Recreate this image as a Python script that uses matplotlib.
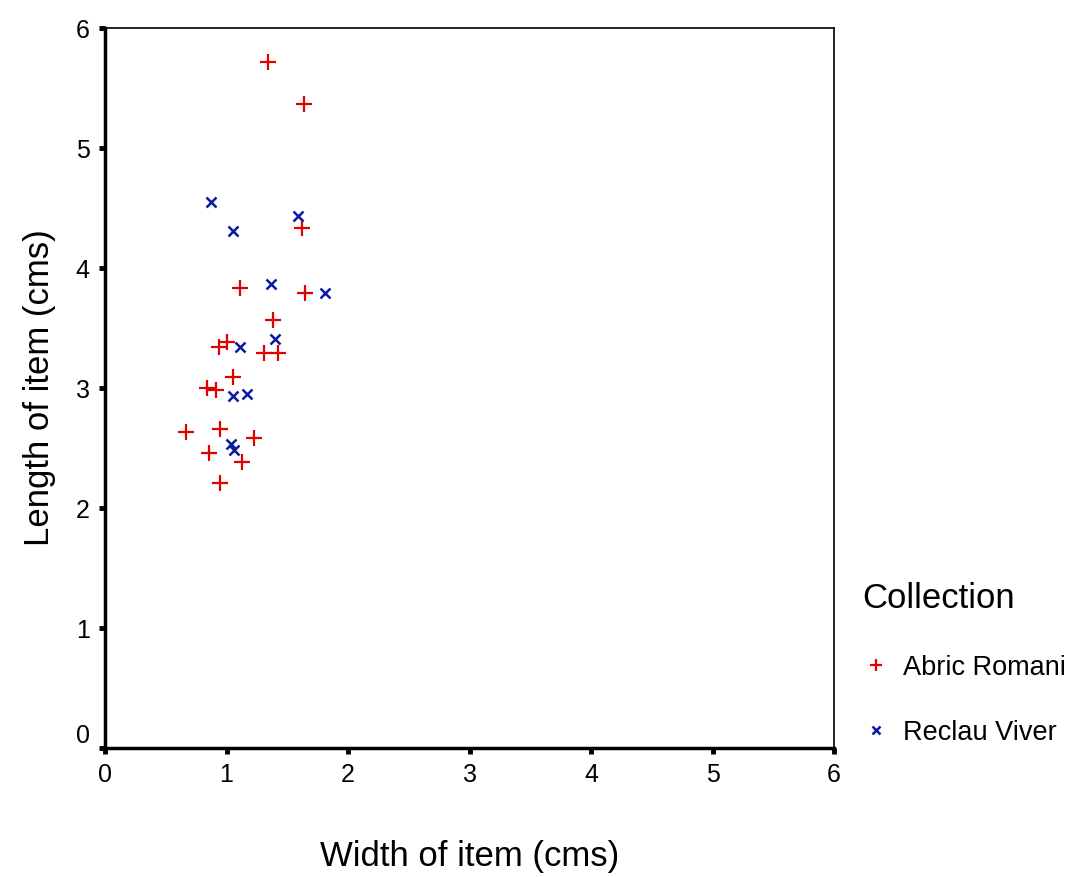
import matplotlib.pyplot as plt

plt.rcParams['font.family'] = ['Liberation Sans', 'DejaVu Sans']

# Abric Romani (red +)
ar_w = [1.34, 1.64, 1.62, 1.11, 1.65, 1.38, 0.94, 1.00, 1.31, 1.42, 1.05,
        0.84, 0.91, 0.67, 0.95, 1.23, 0.86, 1.13, 0.95]
ar_l = [5.72, 5.37, 4.33, 3.83, 3.79, 3.57, 3.34, 3.38, 3.29, 3.29, 3.09,
        3.00, 2.98, 2.63, 2.66, 2.58, 2.46, 2.38, 2.21]

# Reclau Viver (blue x)
rv_w = [0.87, 1.05, 1.59, 1.37, 1.81, 1.40, 1.11, 1.05, 1.17, 1.04, 1.06]
rv_l = [4.55, 4.31, 4.43, 3.87, 3.79, 3.41, 3.34, 2.93, 2.95, 2.53, 2.48]

ticks = [0, 1, 2, 3, 4, 5, 6]

fig = plt.figure(figsize=(10.75, 8.77), dpi=100)
ax = fig.add_axes([105/1075, 1-748/877, 729/1075, 720/877])

ax.plot(ar_w, ar_l, '+', color='#e00000', markersize=11, markeredgewidth=1.6,
        linestyle='none', label='Abric Romani')
ax.plot(rv_w, rv_l, 'x', color='#0a1aa0', markersize=6.5, markeredgewidth=1.8,
        linestyle='none', label='Reclau Viver')

ax.set_xlim(0, 6)
ax.set_ylim(0, 6)
ax.set_xticks(ticks)
ax.set_yticks(ticks)
ax.tick_params(direction='out', length=4, width=3.5, labelsize=18, pad=7)
# the zero label on the y axis sits a little above its tick
ax.get_yticklabels()[0].set_va('bottom')

ax.spines['left'].set_linewidth(2.5)
ax.spines['bottom'].set_linewidth(2.5)
ax.spines['top'].set_linewidth(1.2)
ax.spines['right'].set_linewidth(1.2)

ax.set_xlabel('Width of item (cms)', fontsize=25, labelpad=38)
ax.set_ylabel('Length of item (cms)', fontsize=25, labelpad=14)

leg = fig.legend(loc='upper left', bbox_to_anchor=(838/1075, 1-558/877),
                 frameon=False, title='Collection', fontsize=19.5,
                 title_fontsize=25, labelspacing=1.45, handletextpad=0.5,
                 handlelength=1.0, markerscale=0.8)
leg._legend_box.align = 'left'

fig.savefig('out.png', dpi=100)
